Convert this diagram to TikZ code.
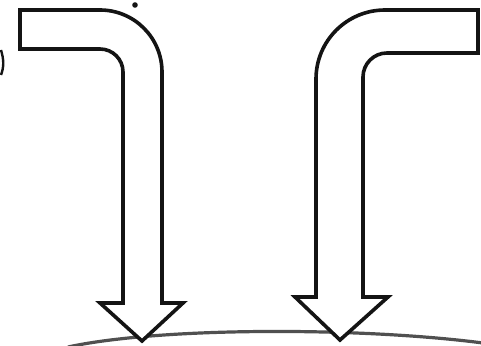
\documentclass[tikz,border=0pt]{standalone}
\usepackage{tikz}
\usepackage{xcolor}
\definecolor{lineblack}{RGB}{20,20,20}
\definecolor{groundgray}{RGB}{80,80,80}

\begin{document}
\begin{tikzpicture}[
  x=1pt, y=1pt,
  bentarr/.style={draw=lineblack, fill=white, line width=3.6pt, line join=miter},
  ground/.style={draw=groundgray, line width=3.2pt},
  speck/.style={fill=lineblack}
]
\useasboundingbox (0,0) rectangle (481,345);
% ground surface
\draw[ground] (68,-2) .. controls (160,18) and (360,18) .. (483,2);
% left arrow, turning down
\draw[bentarr] (20,335) -- (100,335) arc[start angle=90, end angle=0, radius=62]
  -- (162,42) -- (183,42) -- (142,4) -- (100,42) -- (123,42) -- (123,273)
  arc[start angle=0, end angle=90, radius=23] -- (20,296) -- cycle;
% right arrow, turning down
\draw[bentarr] (478,335) -- (385,335) arc[start angle=90, end angle=180, radius=69]
  -- (316,48) -- (295,48) -- (340,5) -- (388,48) -- (363,48) -- (363,268)
  arc[start angle=180, end angle=90, radius=24] -- (478,292) -- cycle;
% stray marks
\fill[speck] (135,340) circle (2.8);
\draw[lineblack, line width=2.4pt] (1,295) .. controls (4,285) and (4,278) .. (1,270);
\end{tikzpicture}
\end{document}
